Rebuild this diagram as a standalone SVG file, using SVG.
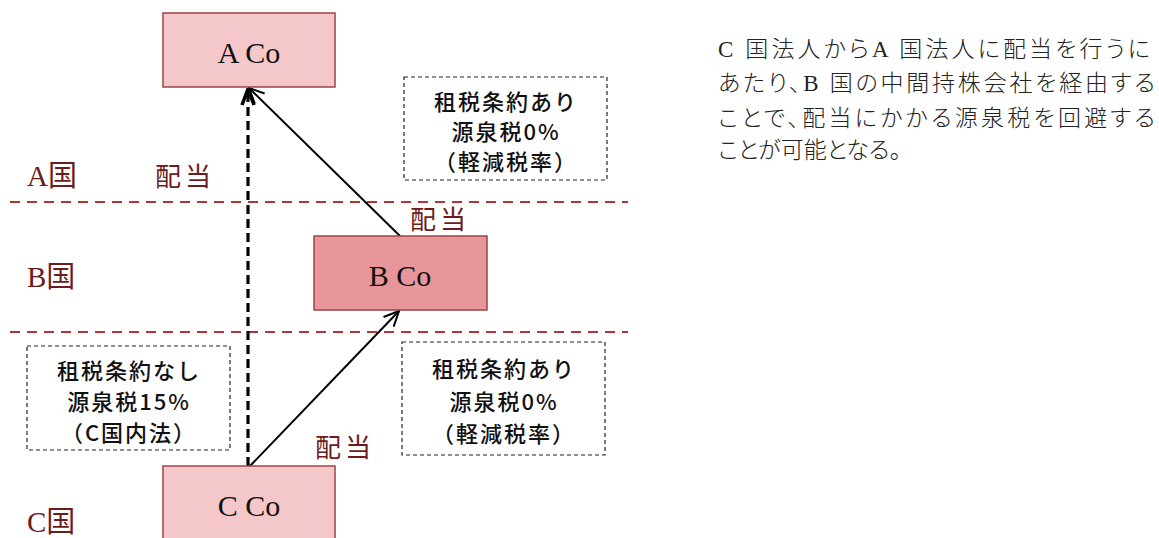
<svg xmlns="http://www.w3.org/2000/svg" width="1159" height="538" viewBox="0 0 1159 538">
<style>
.co{stroke:#9c4545;stroke-width:1.5}
.coA{fill:#f4c8ca}
.coB{fill:#e8969a}
.cot{font-family:"Liberation Serif","Noto Sans CJK JP",serif;font-size:30px;fill:#111;text-anchor:middle}
.ctry{font-family:"Liberation Serif","Noto Sans CJK JP",serif;font-size:29px;fill:#6b1c1c}
.div{font-family:"Noto Sans CJK JP",sans-serif;font-size:26px;fill:#6b1c1c;letter-spacing:4px}
.note{fill:none;stroke:#222;stroke-width:1.2;stroke-dasharray:4 3}
.nt{font-family:"Noto Sans CJK JP",sans-serif;font-size:22px;font-weight:500;fill:#111;text-anchor:middle;letter-spacing:2px}
.bd{stroke:#b03535;stroke-width:2;stroke-dasharray:10 7;fill:none}
.para{font-family:"Liberation Serif","Noto Sans CJK JP",sans-serif;font-size:23px;fill:#222;font-weight:300;font-feature-settings:"palt"}
</style>
<defs>
<marker id="ah" viewBox="0 0 20 20" refX="19" refY="10" markerWidth="20" markerHeight="20" markerUnits="userSpaceOnUse" orient="auto">
<path d="M4,3 L19,10 L4,17" fill="none" stroke="#000" stroke-width="2"/>
</marker>
<marker id="ahT" viewBox="0 0 20 20" refX="19" refY="10" markerWidth="20" markerHeight="20" markerUnits="userSpaceOnUse" orient="auto">
<path d="M3,4 L19,10 L3,16" fill="none" stroke="#000" stroke-width="3.5"/>
</marker>
</defs>

<g id="borders">
<line class="bd" x1="10" y1="202" x2="628" y2="202"/>
<line class="bd" x1="10" y1="332" x2="628" y2="332"/>
</g>

<g id="country-labels">
<text class="ctry" x="27" y="186">A国</text>
<text class="ctry" x="27" y="287">B国</text>
<text class="ctry" x="27" y="532">C国</text>
</g>

<g id="connectors">
<line x1="248" y1="466" x2="248" y2="89" stroke="#000" stroke-width="3.2" stroke-dasharray="9 5" marker-end="url(#ahT)"/>
<line x1="400" y1="236" x2="249" y2="88" stroke="#000" stroke-width="2" marker-end="url(#ah)"/>
<line x1="250" y1="466" x2="399" y2="311" stroke="#000" stroke-width="2" marker-end="url(#ah)"/>
</g>

<g id="dividend-labels">
<text class="div" x="155" y="186">配当</text>
<text class="div" x="410" y="229">配当</text>
<text class="div" x="315" y="457">配当</text>
</g>

<g id="node-A">
<rect class="co coA" x="163" y="13" width="172" height="74"/>
<text class="cot" x="249" y="63">A Co</text>
</g>
<g id="node-B">
<rect class="co coB" x="314" y="236" width="173" height="74"/>
<text class="cot" x="400" y="286">B Co</text>
</g>
<g id="node-C">
<rect class="co coA" x="163" y="466" width="172" height="80"/>
<text class="cot" x="249" y="516">C Co</text>
</g>

<g id="note-AB">
<rect class="note" x="404" y="77" width="203" height="103"/>
<text class="nt" x="506" y="110">租税条約あり</text>
<text class="nt" x="506" y="140">源泉税0%</text>
<text class="nt" x="506" y="170">（軽減税率）</text>
</g>
<g id="note-CB">
<rect class="note" x="402" y="342" width="203" height="113"/>
<text class="nt" x="504" y="377">租税条約あり</text>
<text class="nt" x="504" y="410">源泉税0%</text>
<text class="nt" x="504" y="442">（軽減税率）</text>
</g>
<g id="note-CA">
<rect class="note" x="27" y="346" width="203" height="104"/>
<text class="nt" x="129" y="379">租税条約なし</text>
<text class="nt" x="129" y="410">源泉税15%</text>
<text class="nt" x="129" y="441">（C国内法）</text>
</g>

<g id="description">
<text class="para" x="718" y="57" textLength="432" lengthAdjust="spacing">C 国法人からA 国法人に配当を行うに</text>
<text class="para" x="718" y="91" textLength="437" lengthAdjust="spacing">あたり、B 国の中間持株会社を経由する</text>
<text class="para" x="718" y="126" textLength="437" lengthAdjust="spacing">ことで、配当にかかる源泉税を回避する</text>
<text class="para" x="718" y="158">ことが可能となる。</text>
</g>
</svg>
